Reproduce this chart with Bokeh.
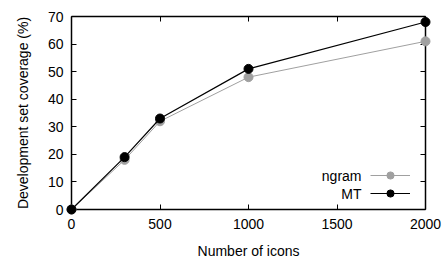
from bokeh.plotting import figure
from bokeh.models import LinearAxis, Range1d, Legend, LegendItem, Label, FixedTicker
from bokeh.embed import file_html
from bokeh.resources import INLINE

icons = [0, 300, 500, 1000, 2000]
ngram = [0, 18, 32, 48, 61]
mt = [0, 19, 33, 51, 68]
x_ticks = [0, 500, 1000, 1500, 2000]
y_ticks = [0, 10, 20, 30, 40, 50, 60, 70]

FONT = "Liberation Sans"
FS = "14px"
GREY = "#a0a0a0"

p = figure(width=444, height=262, output_backend="svg", toolbar_location=None,
           x_range=Range1d(0, 2000), y_range=Range1d(0, 70),
           min_border_left=71, min_border_right=19, min_border_top=16, min_border_bottom=53,
           x_axis_label="Number of icons", y_axis_label="Development set coverage (%)")
p.grid.visible = False
p.outline_line_color = None
p.background_fill_color = "white"
p.border_fill_color = "white"

def style(ax, labels=True):
    ax.axis_line_color = "black"
    ax.axis_line_width = 1.5
    ax.major_tick_in = 5
    ax.major_tick_out = 0
    ax.major_tick_line_color = "black"
    ax.minor_tick_line_color = None
    ax.major_label_text_font = FONT
    ax.major_label_text_font_size = FS if labels else "1px"
    ax.major_label_text_color = "black" if labels else None
    ax.axis_label_text_font = FONT
    ax.axis_label_text_font_size = FS
    ax.axis_label_text_font_style = "normal"
    ax.axis_label_text_color = "black"

xa = p.xaxis[0]
ya = p.yaxis[0]
xa.ticker = FixedTicker(ticks=x_ticks)
ya.ticker = FixedTicker(ticks=y_ticks)
style(xa)
style(ya)
xa.major_label_standoff = 9
xa.axis_label_standoff = 11
ya.major_label_standoff = 8
ya.axis_label_standoff = 14

top = LinearAxis(ticker=FixedTicker(ticks=x_ticks), major_label_standoff=0)
right = LinearAxis(ticker=FixedTicker(ticks=y_ticks), major_label_standoff=0)
style(top, False)
style(right, False)
p.add_layout(top, "above")
p.add_layout(right, "right")

r_ng_l = p.line(icons, ngram, line_color=GREY, line_width=1, level="overlay")
r_ng_m = p.scatter(icons, ngram, size=9, fill_color=GREY, line_color=GREY, level="overlay")
r_mt_l = p.line(icons, mt, line_color="black", line_width=1.2, level="overlay")
r_mt_m = p.scatter(icons, mt, size=9, fill_color="black", line_color="black", level="overlay")

legend = Legend(items=[LegendItem(label="ngram", renderers=[r_ng_l, r_ng_m]),
                       LegendItem(label="MT", renderers=[r_mt_l, r_mt_m])],
                location=(299, 7), glyph_width=40, glyph_height=18, label_height=18,
                label_width=0, label_standoff=0, padding=0, margin=0, spacing=0,
                border_line_color=None, background_fill_alpha=0,
                label_text_font_size="1px", label_text_color=None)
p.add_layout(legend, "center")

for name, yy in (("ngram", 34), ("MT", 16)):
    p.add_layout(Label(x=290, y=yy, x_units="screen", y_units="screen", text=name,
                       text_align="right", text_baseline="middle",
                       text_font=FONT, text_font_size=FS, text_color="black"))

open("out.html", "w").write(file_html(p, INLINE))
